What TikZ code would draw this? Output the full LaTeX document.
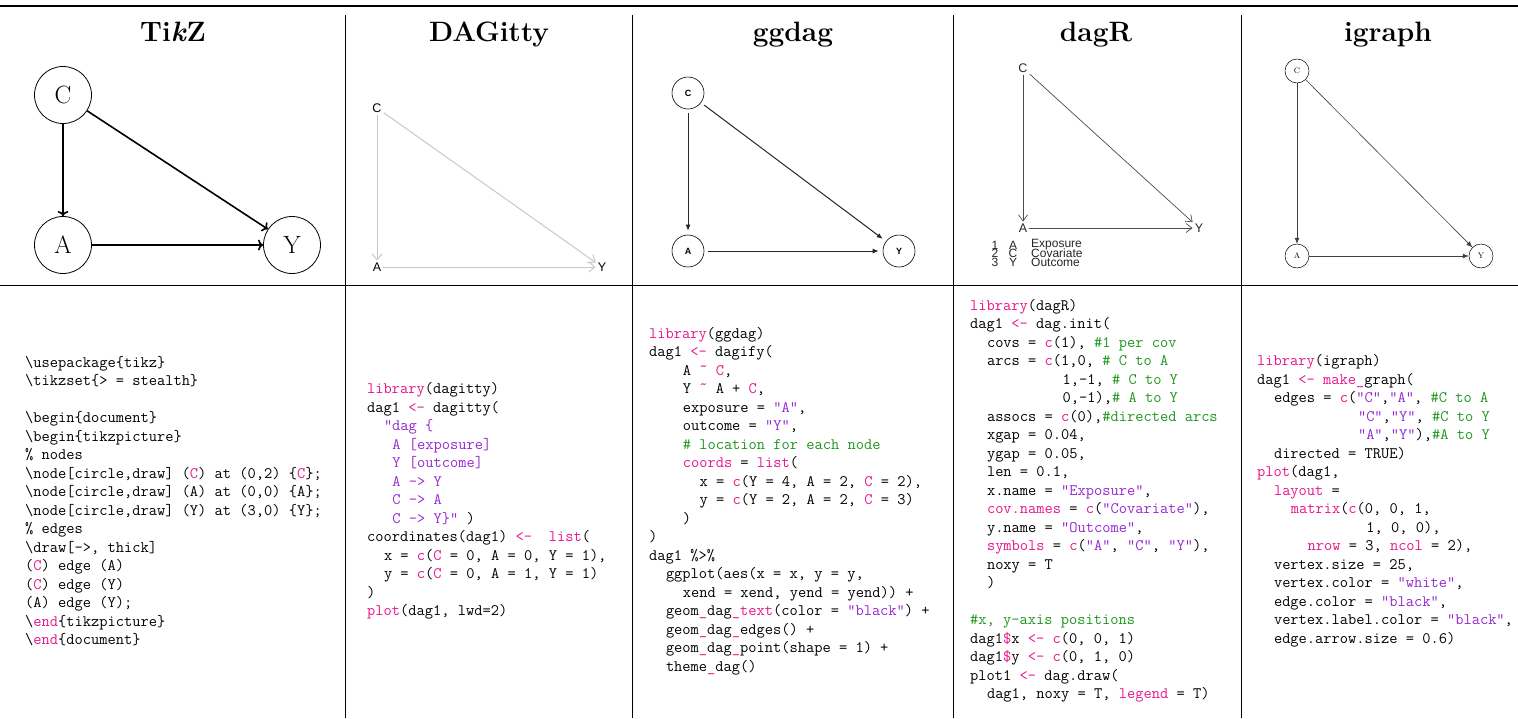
\documentclass[tikz,border=0pt]{standalone}
\usepackage{fontspec}
\usetikzlibrary{arrows.meta}
\newfontfamily\sansf{Liberation Sans}
\definecolor{kwcol}{RGB}{232,20,140}
\definecolor{strcol}{RGB}{150,40,210}
\definecolor{cmtcol}{RGB}{30,150,30}
\newlength\cw
\setlength\cw{8.4pt}
\newcommand\kwc[1]{\textcolor{kwcol}{#1}}
\newcommand\strc[1]{\textcolor{strcol}{#1}}
\newcommand\cmtc[1]{\textcolor{cmtcol}{#1}}
\newcommand\ind[1]{\hspace*{#1\cw}}
\newcommand\tld{\raisebox{0.25em}{\textasciitilde}}
\tikzset{
  head/.style={anchor=base, font=\fontsize{28}{30}\selectfont\bfseries, inner sep=0pt},
  code/.style={anchor=west, align=left, inner sep=0pt, font=\fontsize{16}{18.5}\selectfont\ttfamily},
  rulethick/.style={line width=2pt},
  rulethin/.style={line width=0.8pt},
  tzn/.style={circle, draw, line width=0.8pt, minimum size=57pt, inner sep=0pt, font=\fontsize{25}{25}\selectfont},
  tze/.style={->, line width=1.6pt},
  dgl/.style={inner sep=2pt, font=\sansf\fontsize{12.5}{12.5}\selectfont},
  dge/.style={draw={rgb,255:red,200;green,200;blue,200}, line width=1pt, -{Straight Barb[length=6pt,width=10pt]}},
  ggn/.style={circle, draw, line width=0.6pt, minimum size=32pt, inner sep=0pt, font=\sansf\bfseries\fontsize{9}{9}\selectfont},
  gge/.style={draw=black!85, line width=1pt, -{Latex[length=6pt,width=5pt]}, shorten <=4pt, shorten >=4pt},
  drl/.style={inner sep=2pt, font=\sansf\fontsize{12.5}{12.5}\selectfont, text=black!85},
  dre/.style={draw=black!70, line width=0.7pt, -{Straight Barb[length=6pt,width=9pt]}},
  leg/.style={inner sep=0pt, font=\sansf\fontsize{12}{12}\selectfont, text=black!85},
  ign/.style={circle, draw, line width=0.5pt, minimum size=24pt, inner sep=0pt, font=\fontsize{8}{8}\selectfont},
  ige/.style={draw=black!75, line width=0.6pt, -{Latex[length=6pt,width=5pt]}},
}
\begin{document}
\begin{tikzpicture}[x=1pt, y=-1pt]
\useasboundingbox (0,0) rectangle (1518,718);
% table rules
\coordinate (tl) at (0,6); \coordinate (tr) at (1518,6);
\coordinate (ml) at (0,285); \coordinate (mr) at (1518,285);
\draw[rulethick] (tl) -- (tr);
\draw[rulethin] (ml) -- (mr);
\foreach \xx in {345,632,953,1241} \draw[rulethin] (\xx,15) -- (\xx,718);
% headers
\node[head] (h1) at (173,41) {Ti\textit{k}Z};
\node[head] (h2) at (489,41) {DAGitty};
\node[head] (h3) at (793,41) {ggdag};
\node[head] (h4) at (1096,41) {dagR};
\node[head] (h5) at (1388,41) {igraph};
% TikZ diagram
\node[tzn] (tC) at (63,95) {C};
\node[tzn] (tA) at (63,245) {A};
\node[tzn] (tY) at (292,245) {Y};
\draw[tze] (tC) -- (tA);
\draw[tze] (tC) -- (tY);
\draw[tze] (tA) -- (tY);
% DAGitty diagram
\node[dgl] (gC) at (377,108) {C};
\node[dgl] (gA) at (377,267) {A};
\node[dgl] (gY) at (602,267) {Y};
\draw[dge] (gC) -- (gA);
\draw[dge] (gC) -- (gY);
\draw[dge] (gA) -- (gY);
% ggdag diagram
\node[ggn] (hC) at (688,93) {C};
\node[ggn] (hA) at (688,251) {A};
\node[ggn] (hY) at (899,251) {Y};
\draw[gge] (hC) -- (hA);
\draw[gge] (hC) -- (hY);
\draw[gge] (hA) -- (hY);
% dagR diagram
\node[drl] (rC) at (1023,68) {C};
\node[drl] (rA) at (1023,228) {A};
\node[drl] (rY) at (1199,228) {Y};
\draw[dre] (rC) -- (rA);
\draw[dre] (rC) -- (rY);
\draw[dre] (rA) -- (rY);
\node[leg] (l1n) at (995,245) {1};
\node[leg] (l1s) at (1013,245) {A};
\node[leg, anchor=west] (l1w) at (1031,245) {Exposure};
\node[leg] (l2n) at (995,253) {2};
\node[leg] (l2s) at (1013,253) {C};
\node[leg, anchor=west] (l2w) at (1031,253) {Covariate};
\node[leg] (l3n) at (995,262) {3};
\node[leg] (l3s) at (1013,262) {Y};
\node[leg, anchor=west] (l3w) at (1031,262) {Outcome};
% igraph diagram
\node[ign] (iC) at (1297,71) {C};
\node[ign] (iA) at (1297,256) {A};
\node[ign] (iY) at (1481,256) {Y};
\draw[ige] (iC) -- (iA);
\draw[ige] (iC) -- (iY);
\draw[ige] (iA) -- (iY);
% code column 1
\node[code] (c1) at (25,501) {%
\textbackslash usepackage\{tikz\}\\
\textbackslash tikzset\{> = stealth\}\\
\mbox{}\\
\textbackslash begin\{document\}\\
\textbackslash begin\{tikzpicture\}\\
\% nodes\\
\textbackslash node[circle,draw] (\kwc{C}) at (0,2) \{\kwc{C}\};\\
\textbackslash node[circle,draw] (A) at (0,0) \{A\};\\
\textbackslash node[circle,draw] (Y) at (3,0) \{Y\};\\
\% edges\\
\textbackslash draw[->, thick]\\
(\kwc{C}) edge (A)\\
(\kwc{C}) edge (Y)\\
(A) edge (Y);\\
\textbackslash\kwc{end}\{tikzpicture\}\\
\textbackslash\kwc{end}\{document\}};
% code column 2
\node[code] (c2) at (367,501) {%
\kwc{library}(dagitty)\\
dag1 \kwc{<-} dagitty(\\
\ind{2}\strc{"dag \{}\\
\ind{3}\strc{A [exposure]}\\
\ind{3}\strc{Y [outcome]}\\
\ind{3}\strc{A -> Y}\\
\ind{3}\strc{C -> A}\\
\ind{3}\strc{C -> Y\}"} )\\
coordinates(dag1) \kwc{<-}\ind{2}\kwc{list}(\\
\ind{2}x = \kwc{c}(\kwc{C} = 0, A = 0, Y = 1),\\
\ind{2}y = \kwc{c}(\kwc{C} = 0, A = 1, Y = 1)\\
)\\
\kwc{plot}(dag1, lwd=2)};
% code column 3
\node[code] (c3) at (649,501) {%
\kwc{library}(ggdag)\\
dag1 \kwc{<-} dagify(\\
\ind{4}A \kwc{\tld} \kwc{C},\\
\ind{4}Y \kwc{\tld} A + \kwc{C},\\
\ind{4}exposure = \strc{"A"},\\
\ind{4}outcome = \strc{"Y"},\\
\ind{4}\cmtc{\# location for each node}\\
\ind{4}\kwc{coords} = \kwc{list}(\\
\ind{6}x = \kwc{c}(Y = 4, A = 2, \kwc{C} = 2),\\
\ind{6}y = \kwc{c}(Y = 2, A = 2, \kwc{C} = 3)\\
\ind{4})\\
)\\
dag1 \%>\%\\
\ind{2}ggplot(aes(x = x, y = y,\\
\ind{4}xend = xend, yend = yend)) +\\
\ind{2}geom\kwc{\_}dag\kwc{\_text}(color = \strc{"black"}) +\\
\ind{2}geom\kwc{\_}dag\kwc{\_}edges() +\\
\ind{2}geom\kwc{\_}dag\kwc{\_}point(shape = 1) +\\
\ind{2}theme\kwc{\_}dag()};
% code column 4
\node[code] (c4) at (970,501) {%
\kwc{library}(dagR)\\
dag1 \kwc{<-} dag.init(\\
\ind{2}covs = \kwc{c}(1), \cmtc{\#1 per cov}\\
\ind{2}arcs = \kwc{c}(1,0, \cmtc{\# C to A}\\
\ind{11}1,-1, \cmtc{\# C to Y}\\
\ind{11}0,-1),\cmtc{\# A to Y}\\
\ind{2}assocs = \kwc{c}(0),\cmtc{\#directed arcs}\\
\ind{2}xgap = 0.04,\\
\ind{2}ygap = 0.05,\\
\ind{2}len = 0.1,\\
\ind{2}x.name = \strc{"Exposure"},\\
\ind{2}\kwc{cov.names} = \kwc{c}(\strc{"Covariate"}),\\
\ind{2}y.name = \strc{"Outcome"},\\
\ind{2}\kwc{symbols} = \kwc{c}(\strc{"A"}, \strc{"C"}, \strc{"Y"}),\\
\ind{2}noxy = T\\
\ind{2})\\
\mbox{}\\
\cmtc{\#x, y-axis positions}\\
dag1\kwc{\$}x \kwc{<-} \kwc{c}(0, 0, 1)\\
dag1\kwc{\$}y \kwc{<-} \kwc{c}(0, 1, 0)\\
plot1 \kwc{<-} dag.draw(\\
\ind{2}dag1, noxy = T, \kwc{legend} = T)};
% code column 5
\node[code] (c5) at (1257,501) {%
\kwc{library}(igraph)\\
dag1 \kwc{<-} \kwc{make\_}graph(\\
\ind{2}edges = \kwc{c}(\strc{"C"},\strc{"A"}, \cmtc{\#C to A}\\
\ind{12}\strc{"C"},\strc{"Y"}, \cmtc{\#C to Y}\\
\ind{12}\strc{"A"},\strc{"Y"}),\cmtc{\#A to Y}\\
\ind{2}directed = TRUE)\\
\kwc{plot}(dag1,\\
\ind{2}\kwc{layout} =\\
\ind{4}\kwc{matrix}(\kwc{c}(0, 0, 1,\\
\ind{13}1, 0, 0),\\
\ind{6}\kwc{nrow} = 3, \kwc{ncol} = 2),\\
\ind{2}vertex.size = 25,\\
\ind{2}vertex.color = \strc{"white"},\\
\ind{2}edge.color = \strc{"black"},\\
\ind{2}vertex.label.color = \strc{"black"},\\
\ind{2}edge.arrow.size = 0.6)};
\end{tikzpicture}
\end{document}
